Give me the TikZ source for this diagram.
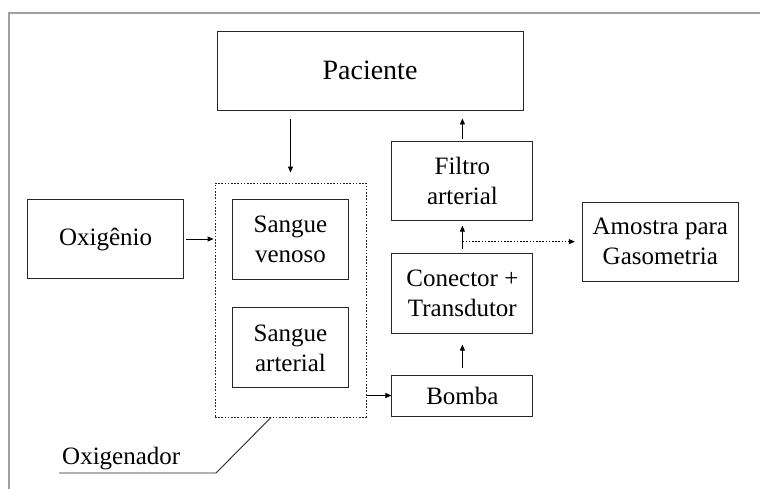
\documentclass[tikz,border=0pt]{standalone}
\usepackage{fontspec}
\setmainfont{Liberation Serif}
\usepackage{tikz}
\usetikzlibrary{arrows.meta, positioning}
\tikzset{
  block/.style={rectangle, draw=black!85, line width=0.9pt, minimum width=141pt, minimum height=80pt, align=center, inner sep=2pt},
  oxbox/.style={rectangle, draw=black!85, line width=0.9pt, dash pattern=on 1.6pt off 1.6pt, minimum width=151pt, minimum height=234pt},
  arrow/.style={-{Triangle[length=6pt, width=5pt]}, line width=0.9pt},
  dotarrow/.style={-{Triangle[length=6pt, width=5pt]}, line width=0.9pt, dash pattern=on 1.6pt off 1.6pt},
}

\begin{document}
\begin{tikzpicture}[x=1pt, y=-1pt, font=\fontsize{25}{30}\selectfont]
\useasboundingbox (0,0) rectangle (760,488);
% moldura
\draw[gray!75, line width=1.5pt] (9,500) -- (9,13) -- (770,13);

\node[block, minimum width=306pt, minimum height=79pt, font=\fontsize{28}{34}\selectfont] (paciente) at (370,70.5) {Paciente};
\node[oxbox] (oxigenador) at (290.5,300) {};
\node[block, minimum width=116pt, below=16pt of oxigenador.north] (venoso) {Sangue\\venoso};
\node[block, minimum width=116pt, below=28pt of venoso] (arterial) {Sangue\\arterial};
\node[block, minimum width=156pt, minimum height=79pt, left=48pt of venoso] (oxigenio) {Oxig\^enio};
\node[block, minimum height=41pt, above right=1pt and 25pt of oxigenador.south east] (bomba) {Bomba};
\node[block, above=41pt of bomba] (conector) {Conector +\\Transdutor};
\node[block, minimum height=79pt, above=32pt of conector] (filtro) {Filtro\\arterial};
\coordinate[above=11pt of conector.north] (tap);
\node[block, minimum width=156pt, minimum height=79pt, right=119.5pt of tap] (amostra) {Amostra para\\Gasometria};

\node[anchor=south west, inner sep=3pt] (oxlabel) at (59,473) {Oxigenador};
\coordinate (knee) at (216,473);

\draw[arrow, shorten <=9pt, shorten >=10pt] (paciente.south -| oxigenador.north) -- (oxigenador.north);
\draw[arrow, shorten <=2pt, shorten >=1pt] (oxigenio.east) -- (oxigenio.east -| oxigenador.west);
\draw[arrow] (bomba.west -| oxigenador.east) -- (bomba.west);
\draw[arrow, shorten <=7pt, shorten >=11pt] (bomba.north) -- (conector.south);
\draw[arrow, shorten <=4pt, shorten >=5pt] (conector.north) -- (filtro.south);
\draw[arrow, shorten <=2pt, shorten >=8pt] (filtro.north) -- (paciente.south -| filtro.north);
\draw[dotarrow, shorten >=7pt] (tap) -- (amostra.west);
\draw[line width=0.9pt, black!85] (oxlabel.south west) -- (knee) -- ([xshift=-19.5pt]oxigenador.south);
\end{tikzpicture}
\end{document}
